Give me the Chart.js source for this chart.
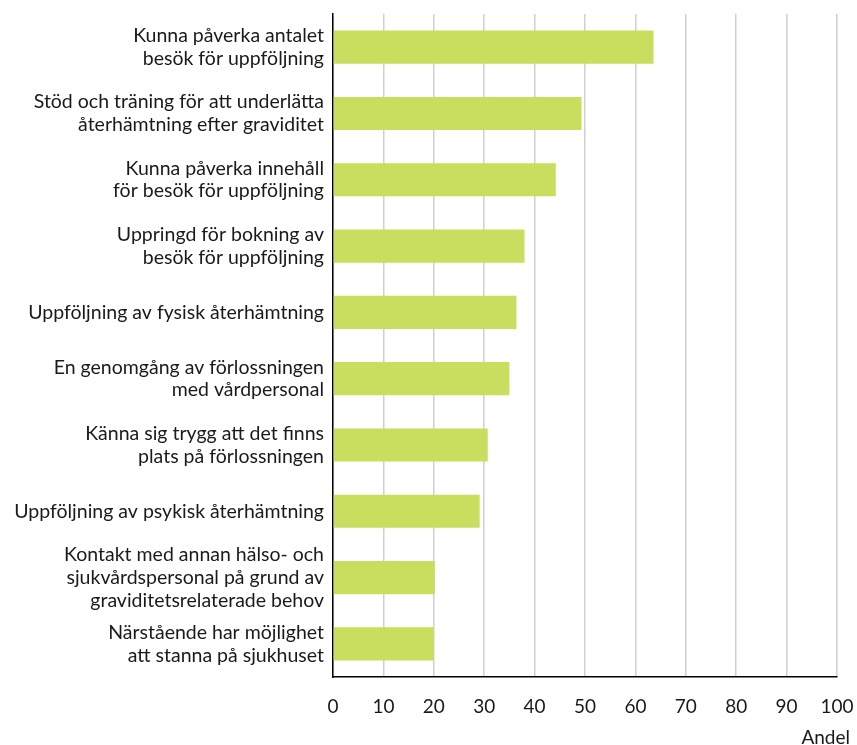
<!DOCTYPE html>
<html>
<head>
<meta charset="utf-8">
<script src="https://cdn.jsdelivr.net/npm/chart.js@4"></script>
<style>
  html, body { margin: 0; padding: 0; background: #fff; }
  #wrap { width: 857px; height: 745px; }
</style>
</head>
<body>
<div id="wrap"><canvas id="myChart" width="857" height="745"></canvas></div>
<script>
// Categories (multi-line labels) and their shares
const categories = [
  ['Kunna påverka antalet', 'besök för uppföljning'],
  ['Stöd och träning för att underlätta', 'återhämtning efter graviditet'],
  ['Kunna påverka innehåll', 'för besök för uppföljning'],
  ['Uppringd för bokning av', 'besök för uppföljning'],
  'Uppföljning av fysisk återhämtning',
  ['En genomgång av förlossningen', 'med vårdpersonal'],
  ['Känna sig trygg att det finns', 'plats på förlossningen'],
  'Uppföljning av psykisk återhämtning',
  ['Kontakt med annan hälso- och', 'sjukvårdspersonal på grund av', 'graviditetsrelaterade behov'],
  ['Närstående har möjlighet', 'att stanna på sjukhuset']
];
const values = [63.6, 49.3, 44.2, 38.0, 36.4, 35.0, 30.7, 29.1, 20.2, 20.0];
const xTitle = 'Andel';

const FONT = 'Lato, "Noto Sans", sans-serif';
const TEXT = '#1a1a1a';

// drop the label overhang padding so the plot area sits where we want it
const noPad = (s) => { s.paddingTop = 0; s.paddingBottom = 0; s.paddingLeft = 0; s.paddingRight = 0; };

// axis title sits under the last tick, right-aligned with the "100" label
const axisTitle = {
  id: 'axisTitle',
  afterDraw(chart) {
    const c = chart.ctx;
    c.save();
    c.font = `19px ${FONT}`;
    c.fillStyle = TEXT;
    c.textAlign = 'right';
    c.textBaseline = 'alphabetic';
    c.fillText(xTitle, chart.chartArea.right + 13, chart.chartArea.bottom + 67);
    c.restore();
  }
};

function chartIt() {
  const ctx = document.getElementById('myChart');
  new Chart(ctx, {
    type: 'bar',
    data: {
      labels: categories,
      datasets: [{
        data: values,
        backgroundColor: '#c9dd5f',
        borderWidth: 0,
        categoryPercentage: 1,
        barPercentage: 0.5
      }]
    },
    options: {
      indexAxis: 'y',
      responsive: false,
      animation: false,
      layout: { padding: { top: 14, right: 20, left: 4, bottom: 0 } },
      plugins: { legend: { display: false }, tooltip: { enabled: false } },
      scales: {
        x: {
          min: 0,
          max: 100,
          ticks: { stepSize: 10, color: TEXT, font: { family: FONT, size: 19 }, padding: 18 },
          grid: { color: '#d0d0d0', lineWidth: 1.5, drawTicks: false },
          border: { color: '#000', width: 1.5 },
          afterFit: (s) => { noPad(s); s.height = 68; }
        },
        y: {
          ticks: { autoSkip: false, color: TEXT, font: { family: FONT, size: 19.5, lineHeight: 1.17 }, padding: 1 },
          grid: { display: false },
          border: { color: '#000', width: 1.5 },
          afterFit: (s) => { noPad(s); s.width = 329; }
        }
      }
    },
    plugins: [axisTitle]
  });
}

chartIt();
</script>
</body>
</html>
